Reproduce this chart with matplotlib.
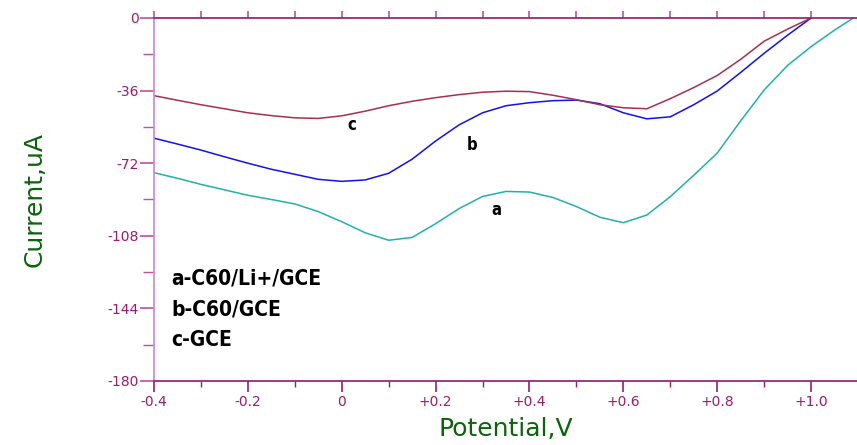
import numpy as np
import matplotlib
matplotlib.use("Agg")
import matplotlib.pyplot as plt
from matplotlib.ticker import MultipleLocator

# potential grid (V) shared by the three voltammograms
potential = [-0.40, -0.35, -0.30, -0.25, -0.20, -0.15, -0.10, -0.05, 0.00, 0.05,
             0.10, 0.15, 0.20, 0.25, 0.30, 0.35, 0.40, 0.45, 0.50, 0.55,
             0.60, 0.65, 0.70, 0.75, 0.80, 0.85, 0.90, 0.95, 1.00]

# current (uA)
curr_a = [-76.7, -79.5, -82.5, -85.2, -87.9, -90.0, -92.2, -96.0, -101.0, -106.5,
          -110.2, -108.8, -102.0, -94.5, -88.5, -86.0, -86.3, -89.0, -93.5, -98.8,
          -101.5, -97.7, -88.6, -78.0, -67.0, -51.0, -35.7, -23.5, -14.2]
curr_b = [-59.6, -62.5, -65.5, -68.8, -72.0, -75.0, -77.5, -80.0, -81.0, -80.3,
          -77.0, -70.0, -61.0, -53.0, -47.0, -43.5, -42.0, -41.0, -40.7, -42.5,
          -47.0, -50.0, -49.0, -43.0, -36.2, -27.0, -17.5, -8.5, 0.0]
curr_c = [-38.5, -40.8, -43.0, -45.0, -47.0, -48.4, -49.5, -49.8, -48.5, -46.2,
          -43.5, -41.3, -39.5, -38.0, -36.8, -36.3, -36.5, -38.3, -40.5, -43.0,
          -44.5, -45.0, -40.0, -34.5, -28.5, -20.5, -11.5, -5.5, 0.0]

# curve a keeps going a little past +1.0 V
tail_x = [1.05, 1.09]
tail_a = [-6.0, 0.0]

legend_lines = ["a-C60/Li+/GCE", "b-C60/GCE", "c-GCE"]
xtick_vals = [-0.4, -0.2, 0.0, 0.2, 0.4, 0.6, 0.8, 1.0]
xtick_text = ["-0.4", "-0.2", "0", "+0.2", "+0.4", "+0.6", "+0.8", "+1.0"]
ytick_vals = [0, -36, -72, -108, -144, -180]

tick_col = "#9b1b6e"
green = "#0a640a"

fig = plt.figure(figsize=(8.57, 4.45), dpi=100)
ax = fig.add_axes([154 / 857, 1 - 381 / 445, 704 / 857, 363 / 445])

ax.plot(potential + tail_x, curr_a + tail_a, color="#20b2aa", lw=1.1)
ax.plot(potential, curr_b, color="#1010ff", lw=1.1)
ax.plot(potential, curr_c, color="#a8304f", lw=1.1)

ax.set_xlim(-0.4, 1.1)
ax.set_ylim(-180, 0)

ax.spines["right"].set_visible(False)
ax.spines["left"].set_color("#c78ac7")
ax.spines["bottom"].set_color("#8e1a6a")
ax.spines["top"].set_color("#8e1a6a")
for s in ax.spines.values():
    s.set_linewidth(1.2)

ax.set_xticks(xtick_vals)
ax.set_xticklabels(xtick_text)
ax.xaxis.set_minor_locator(MultipleLocator(0.1))
ax.set_yticks(ytick_vals)
ax.set_yticklabels([str(v) for v in ytick_vals])
ax.yaxis.set_minor_locator(MultipleLocator(18))

ax.tick_params(axis="x", which="major", direction="out", length=8, width=1.2,
               color=tick_col, labelcolor=tick_col, labelsize=10, pad=2)
ax.tick_params(axis="x", which="minor", direction="out", length=4, width=1.0,
               color=tick_col)
ax.tick_params(axis="y", which="major", direction="out", length=10, width=1.2,
               color="#c050a0", labelcolor=tick_col, labelsize=10, pad=1)
ax.tick_params(axis="y", which="minor", direction="out", length=8, width=1.0,
               color="#c050a0")

# short upward ticks every 0.1 V along the zero line
top = ax.secondary_xaxis("top")
top.set_xticks(np.arange(-0.4, 1.05, 0.1))
top.tick_params(direction="out", length=5, width=1.2, color="#c050a0",
                labeltop=False)
top.spines["top"].set_visible(False)

ax.set_xlabel("Potential,V", color=green, fontsize=18, labelpad=6)
ax.set_ylabel("Current,uA", color=green, fontsize=18, labelpad=44)

bold_narrow = dict(family="DejaVu Sans", fontstretch="condensed",
                   fontweight="bold", color="black")
ax.text(0.022, -53, "c", fontsize=12, ha="center", va="center", **bold_narrow)
ax.text(0.278, -63, "b", fontsize=12, ha="center", va="center", **bold_narrow)
ax.text(0.329, -95, "a", fontsize=12, ha="center", va="center", **bold_narrow)

for i, line in enumerate(legend_lines):
    ax.text(-0.364, -129 - 15.4 * i, line, fontsize=15, ha="left", va="center",
            **bold_narrow)

fig.savefig("out.png", dpi=100)
